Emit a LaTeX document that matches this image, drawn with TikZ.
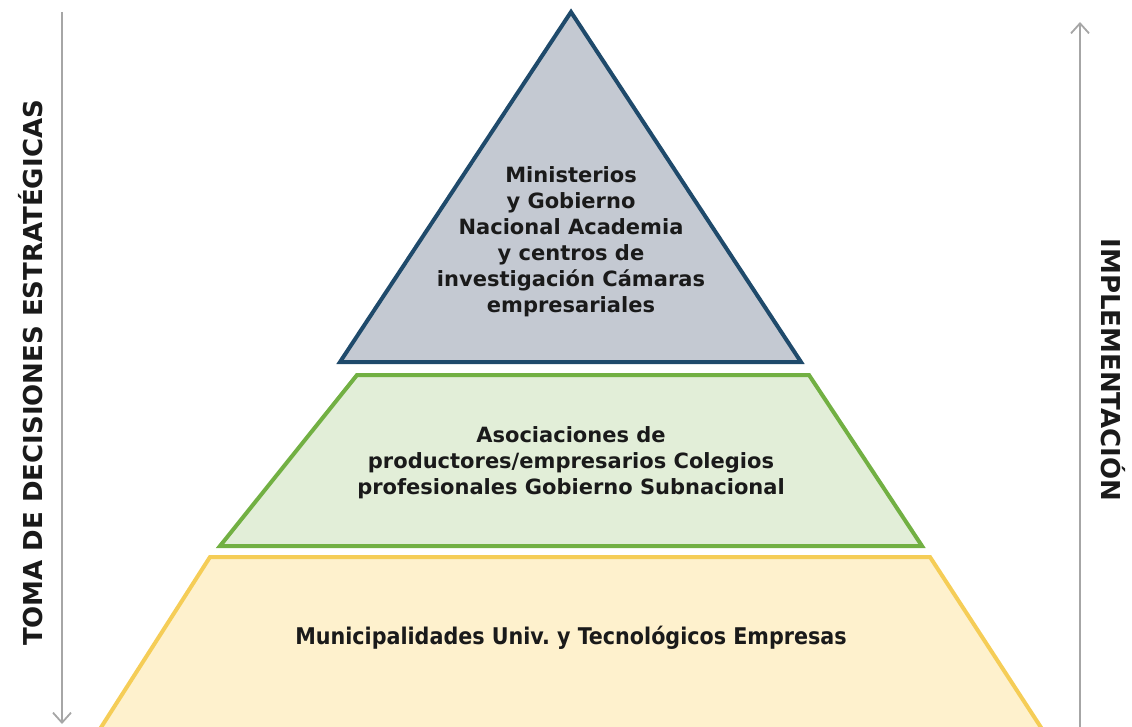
\documentclass[tikz,border=0pt]{standalone}
\usepackage{fontspec}
\setmainfont{DejaVu Sans}
\newfontfamily\condfont{DejaVu Sans Condensed}
\usetikzlibrary{arrows.meta}
\definecolor{topfill}{HTML}{C4C9D2}
\definecolor{topline}{HTML}{1F4A6B}
\definecolor{midfill}{HTML}{E2EED8}
\definecolor{midline}{HTML}{72B043}
\definecolor{lowfill}{HTML}{FEF1CD}
\definecolor{lowline}{HTML}{F5CD57}
\definecolor{axis}{HTML}{A6A6A6}
\definecolor{ink}{HTML}{1A1A1A}
\tikzset{
  level/.style={line width=4pt, line join=miter},
  axisline/.style={draw=axis, line width=1.8pt, -{Straight Barb[length=10pt,width=18pt,line width=1.8pt]}},
  lvltext/.style={text=ink, align=center, font=\fontsize{21}{26}\selectfont\bfseries},
  sidetext/.style={text=ink, font=\fontsize{26}{30}\selectfont\bfseries},
}
\begin{document}
\begin{tikzpicture}[x=1pt,y=-1pt]
  \useasboundingbox (0,0) rectangle (1132,727);
  % top triangle
  \coordinate (A) at (571,12);
  \coordinate (B) at (340,362);
  \coordinate (C) at (801,362);
  \filldraw[level, fill=topfill, draw=topline] (A)--(B)--(C)--cycle;
  % middle band
  \coordinate (D) at (357,375);
  \coordinate (E) at (809,375);
  \coordinate (F) at (922,546);
  \coordinate (G) at (220,546);
  \filldraw[level, fill=midfill, draw=midline] (D)--(E)--(F)--(G)--cycle;
  % bottom band
  \coordinate (H) at (210,557);
  \coordinate (I) at (930,557);
  \coordinate (J) at (1042,729);
  \coordinate (K) at (100,729);
  \filldraw[level, fill=lowfill, draw=lowline] (H)--(I)--(J)--(K)--cycle;
  \node[lvltext] (top) at (571,242) {Ministerios\\y Gobierno\\Nacional Academia\\y centros de\\investigación Cámaras\\empresariales};
  \node[lvltext] (mid) at (571,463) {Asociaciones de\\productores/empresarios Colegios\\profesionales Gobierno Subnacional};
  \node[lvltext, font=\fontsize{23}{26}\selectfont\bfseries\condfont] (low) at (571,638) {Municipalidades Univ.\ y Tecnológicos Empresas};
  % side axes
  \coordinate (L1) at (62,12);
  \coordinate (L2) at (62,724);
  \coordinate (R1) at (1080,727);
  \coordinate (R2) at (1080,22);
  \draw[axisline] (L1)--(L2);
  \draw[axisline] (R1)--(R2);
  \node[sidetext, rotate=90] (toma) at (31,373) {TOMA DE DECISIONES ESTRATÉGICAS};
  \node[sidetext, rotate=-90] (impl) at (1113,370) {IMPLEMENTACIÓN};
\end{tikzpicture}
\end{document}
